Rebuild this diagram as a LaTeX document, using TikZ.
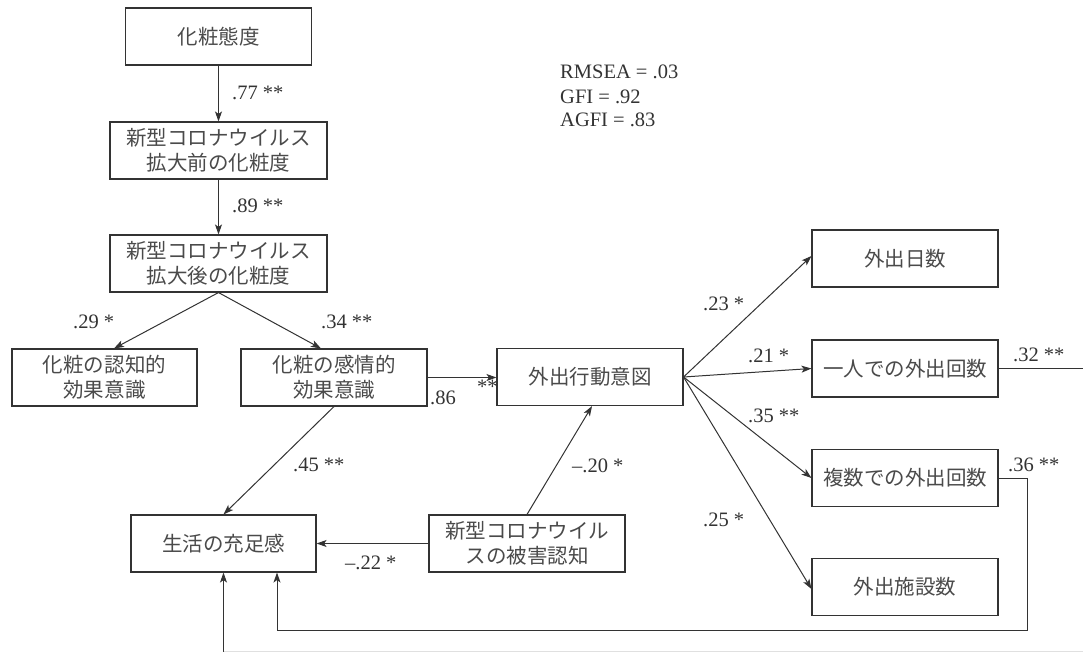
\documentclass[tikz,border=0pt]{standalone}
\usepackage{fontspec}
\setmainfont{Liberation Serif}
\newfontfamily\jp{Noto Sans CJK JP}
\usetikzlibrary{arrows.meta,calc}
\definecolor{ink}{HTML}{333333}
\definecolor{jpink}{HTML}{4A4A4A}
\tikzset{
  box/.style={draw=ink, line width=1.1bp, rectangle, inner sep=0pt, minimum width=186bp, minimum height=57bp, align=center, font=\jp\fontsize{20.5bp}{25bp}\selectfont, text=jpink},
  widebox/.style={box, minimum width=217bp},
  lab/.style={anchor=west, inner sep=0pt, font=\fontsize{20.5bp}{24bp}\selectfont, text=ink},
  arr/.style={draw=ink, line width=1bp, -{Stealth[length=10bp,width=7bp,inset=2.5bp]}},
  ln/.style={draw=ink, line width=1bp}
}
\begin{document}
\begin{tikzpicture}[x=1bp,y=-1bp]
\useasboundingbox (0,0) rectangle (1083,652);
% boxes
\node[box] (A) at (218.5,36.5) {化粧態度};
\node[widebox] (B) at (218.5,150.5) {新型コロナウイルス\\拡大前の化粧度};
\node[widebox] (C) at (218.5,263.5) {新型コロナウイルス\\拡大後の化粧度};
\node[box, minimum width=185bp] (D) at (104.5,377.5) {化粧の認知的\\効果意識};
\node[box] (E) at (334,377.5) {化粧の感情的\\効果意識};
\node[box] (F) at (590,377) {外出行動意図};
\node[box, minimum width=185bp] (G) at (223.5,543.5) {生活の充足感};
\node[box, minimum width=196bp] (H) at (527,543.5) {新型コロナウイル\\スの被害認知};
\node[box] (I) at (905,258.5) {外出日数};
\node[box] (J) at (905,368.5) {一人での外出回数};
\node[box] (K) at (905,478) {複数での外出回数};
\node[box] (L) at (905,587) {外出施設数};
% free ends
\coordinate (Jout) at (1083,368.5);
\coordinate (Kr) at (1027,478);
\coordinate (Kd) at (1027,630);
\coordinate (Kl) at (277,630);
\coordinate (Bot) at (223.5,652);
\coordinate (BotR) at (1083,651);
% connectors
\draw[arr] (A.south) -- (B.north);
\draw[arr] (B.south) -- (C.north);
\draw[arr] (C.south) -- ([xshift=9.5bp]D.north);
\draw[arr] (C.south) -- ([xshift=-13bp]E.north);
\draw[arr] (E.east) -- (F.west |- E.east);
\draw[arr] (E.south) -- (G.north);
\draw[arr] (H.west) -- (G.east);
\draw[arr] (H.north) -- ([xshift=2bp]F.south);
\draw[arr] (F.east) -- ([yshift=2.5bp]I.west);
\draw[arr] (F.east) -- (J.west);
\draw[arr] (F.east) -- (K.west);
\draw[arr] (F.east) -- ([yshift=-2bp]L.west);
\draw[ln] (J.east) -- (Jout);
\draw[arr] (K.east) -- (Kr) -- (Kd) -- (Kl) -- (Kl |- G.south);
\draw[arr] (Bot) -- (G.south);
\draw[draw=black!12, line width=1bp] (Bot |- BotR) -- (BotR);
% labels
\node[lab] (l1) at (232,93) {.77 **};
\node[lab] (l2) at (232,206) {.89 **};
\node[lab] (l3) at (73,322) {.29 *};
\node[lab] (l4) at (321,322) {.34 **};
\node[lab] (l5) at (293,465) {.45 **};
\node[lab] (l6) at (430,398) {.86};
\node[lab] (l7) at (477,387) {**};
\node[lab] (l8) at (345,563) {–.22 *};
\node[lab] (l9) at (572,466) {–.20 *};
\node[lab] (l10) at (703,304) {.23 *};
\node[lab] (l11) at (748,356) {.21 *};
\node[lab] (l12) at (748,416) {.35 **};
\node[lab] (l13) at (703,520) {.25 *};
\node[lab] (l14) at (1013,355) {.32 **};
\node[lab] (l15) at (1008,465) {.36 **};
\node[lab] (r1) at (560,72) {RMSEA = .03};
\node[lab] (r2) at (560,97) {GFI = .92};
\node[lab] (r3) at (560,120) {AGFI = .83};
\end{tikzpicture}
\end{document}
